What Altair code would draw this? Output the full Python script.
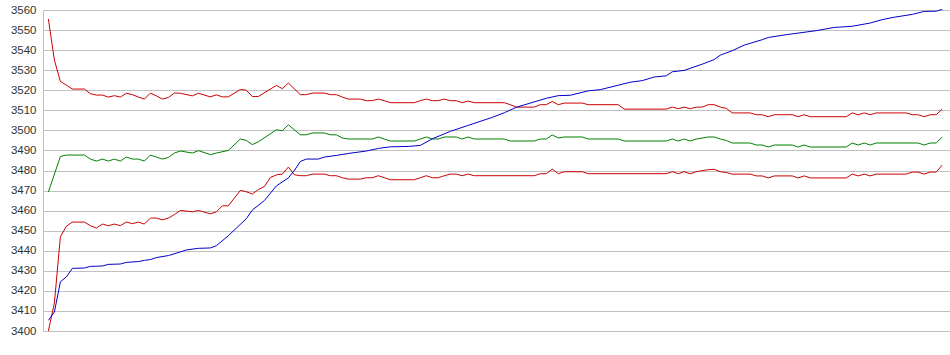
import altair as alt
import pandas as pd

# Upper band (red)
U_idx = [0,1,2,3,4,6,7,8,9,10,11,12,13,14,15,16,17,18,19,20,21,22,24,25,27,28,29,30,32,33,34,35,38,39,40,42,43,44,46,47,48,49,50,52,53,54,55,56,57,61,62,63,64,65,66,67,68,69,70,71,76,77,78,81,82,83,84,85,86,89,90,95,96,103,104,105,106,107,108,109,110,111,112,113,114,117,118,119,120,121,124,125,126,127,133,134,135,136,137,138,143,144,145,146,147,148,149]
U_val = [3555.5,3535,3524.4,3522.5,3520.6,3520.6,3518.3,3517.6,3517.6,3516.6,3517.3,3516.6,3518.5,3517.8,3516.6,3515.6,3518.6,3517.2,3515.6,3516.4,3518.6,3518.5,3517.2,3518.5,3516.7,3517.7,3516.7,3516.7,3520.4,3520,3516.9,3516.9,3522.4,3520.8,3523.6,3517.8,3517.8,3518.6,3518.6,3517.8,3517.8,3516.6,3515.6,3515.6,3514.8,3514.8,3515.6,3514.8,3513.8,3513.8,3514.8,3515.6,3514.8,3514.8,3515.6,3514.8,3514.8,3513.8,3514.6,3513.8,3513.8,3512.8,3511.6,3511.6,3512.8,3512.8,3514.4,3512.8,3513.6,3513.6,3512.8,3512.8,3510.6,3510.6,3511.6,3510.8,3511.6,3510.8,3511.6,3511.6,3512.8,3512.8,3511.6,3511,3508.7,3508.7,3507.8,3507.8,3506.8,3507.8,3507.8,3506.8,3507.8,3506.8,3506.8,3508.7,3507.8,3508.7,3507.8,3508.7,3508.7,3507.8,3507.8,3506.8,3507.8,3507.8,3510.6]

# Middle line (green)
G_idx = [0,2,3,6,7,8,9,10,11,12,13,14,15,16,17,18,19,20,21,22,24,25,27,28,30,32,33,34,35,38,39,40,42,43,44,46,47,48,49,50,54,55,56,57,61,62,63,64,65,66,68,69,70,71,76,77,81,82,83,84,85,86,89,90,95,96,103,104,105,106,107,108,110,111,112,113,114,117,118,119,120,121,124,125,126,127,133,134,135,136,137,138,145,146,147,148,149]
G_val = [3469.3,3487,3487.7,3487.7,3485.7,3484.7,3485.7,3484.7,3485.7,3484.7,3486.7,3485.7,3485.7,3484.7,3487.7,3486.7,3485.7,3486.5,3488.7,3489.7,3488.7,3489.9,3487.9,3488.7,3490,3495.7,3495,3492.9,3494.3,3500.3,3499.8,3502.8,3497.8,3497.8,3498.7,3498.7,3497.8,3497.8,3496.2,3495.7,3495.7,3496.7,3495.7,3494.7,3494.7,3495.7,3496.7,3495.7,3495.7,3496.7,3496.7,3495.7,3496.7,3495.7,3495.7,3494.7,3494.7,3495.7,3495.7,3497.7,3496.2,3496.7,3496.7,3495.7,3495.7,3494.7,3494.7,3495.7,3494.7,3495.7,3494.7,3495.7,3496.7,3496.7,3495.7,3495,3493.7,3493.7,3492.7,3492.7,3491.7,3492.7,3492.7,3491.7,3492.7,3491.7,3491.7,3493.7,3492.7,3493.7,3492.7,3493.7,3493.7,3492.7,3493.7,3493.7,3496.7]

# Lower band (red)
L_idx = [0,1,2,3,4,6,7,8,9,10,11,12,13,14,15,16,17,18,19,20,21,22,24,25,27,28,29,30,32,33,34,35,36,37,38,39,40,41,42,43,44,46,47,48,49,50,52,53,54,55,56,57,61,62,63,64,65,66,67,68,69,70,71,81,82,83,84,85,86,89,90,103,104,105,106,107,108,110,111,112,113,114,117,118,119,120,121,124,125,126,127,133,134,135,136,137,138,143,144,145,146,147,148,149]
L_val = [3400,3414,3447,3452.2,3454.3,3454.3,3452.5,3451.3,3453.3,3452.5,3453.3,3452.5,3454.3,3453.5,3454.3,3453.3,3456.3,3456.3,3455.4,3456.3,3458,3460.1,3459.4,3460.1,3458.4,3459.4,3462.4,3462.4,3470.1,3469.4,3468.3,3470.5,3472,3476.5,3477.8,3478.2,3481.7,3477.9,3477.4,3477.4,3478.2,3478.2,3477.4,3477.4,3476.4,3475.7,3475.7,3476.4,3476.4,3477.4,3476.4,3475.4,3475.4,3476.4,3477.4,3476.4,3476.4,3477.4,3478.2,3478.2,3477.4,3478.2,3477.4,3477.4,3478.4,3478.4,3480.7,3478.4,3479.4,3479.4,3478.4,3478.4,3479.4,3478.4,3479.4,3478.4,3479.4,3480.4,3480.6,3479.4,3479,3478.2,3478.2,3477.3,3477.3,3476.3,3477.3,3477.3,3476.3,3477.3,3476.3,3476.3,3478.2,3477.3,3478.2,3477.3,3478.2,3478.2,3479.2,3479.2,3478.2,3479.2,3479.2,3482.7]

# Rising line (blue)
B_idx = [0,1,2,3,4,6,7,9,10,12,13,15,16,17,18,20,22,23,25,27,28,30,33,34,36,38,40,41,42,43,45,46,48,50,53,55,57,60,62,64,67,70,74,76,78,83,85,87,90,92,97,99,101,103,104,106,109,111,112,114,116,119,120,123,125,128,131,134,137,139,141,144,146,148,149]
B_val = [3405.3,3409.5,3424.5,3427,3431.2,3431.4,3432.2,3432.4,3433.2,3433.4,3434.2,3434.6,3435.2,3435.6,3436.6,3437.6,3439.4,3440.4,3441.2,3441.4,3442.5,3447.5,3456,3460.3,3465,3472.3,3476.3,3480,3484.5,3485.7,3485.7,3486.7,3487.5,3488.5,3489.7,3491,3491.8,3492,3492.5,3495.8,3499.5,3502.5,3506.5,3508.8,3511.5,3516,3517.3,3517.5,3519.7,3520.3,3524,3524.8,3526.6,3527.2,3529.2,3529.9,3533,3535.3,3537.5,3539.7,3542.5,3545.2,3546.3,3547.7,3548.5,3549.7,3551.3,3551.9,3553.5,3555.2,3556.4,3557.8,3559.3,3559.4,3560.3]

Y_TICKS = list(range(3400, 3561, 10))

series_names = ["upper", "middle", "lower", "value"]
series_colors = ["#cc0000", "#008000", "#cc0000", "#0000cc"]

frames = []
for name, idx, val in [("upper", U_idx, U_val), ("middle", G_idx, G_val),
                       ("lower", L_idx, L_val), ("value", B_idx, B_val)]:
    frames.append(pd.DataFrame({"idx": idx, "value": val, "series": name}))
df = pd.concat(frames, ignore_index=True)

chart = alt.Chart(df).mark_line(strokeWidth=1).encode(
    x=alt.X("idx:Q", scale=alt.Scale(domain=[-0.9, 150.3], nice=False, zero=False), axis=None),
    y=alt.Y("value:Q",
            scale=alt.Scale(domain=[3400, 3560], nice=False, zero=False),
            axis=alt.Axis(values=Y_TICKS, format="d", title=None, grid=True, gridColor="#c0c0c0",
                          gridWidth=1, domain=True, domainColor="#c0c0c0", ticks=False,
                          tickSize=0, labelPadding=7, labelFont="Liberation Sans",
                          labelFontSize=11.5, labelColor="#333333")),
    color=alt.Color("series:N", scale=alt.Scale(domain=series_names, range=series_colors), legend=None),
    order=alt.Order("idx:Q"),
).properties(
    width=907, height=321,
    autosize=alt.AutoSizeParams(type="none"),
    padding={"left": 43, "top": 10, "right": 0, "bottom": 24},
    background="white",
).configure_view(stroke=None)

chart.save("out.html", embed_options={"renderer": "svg", "actions": False})
